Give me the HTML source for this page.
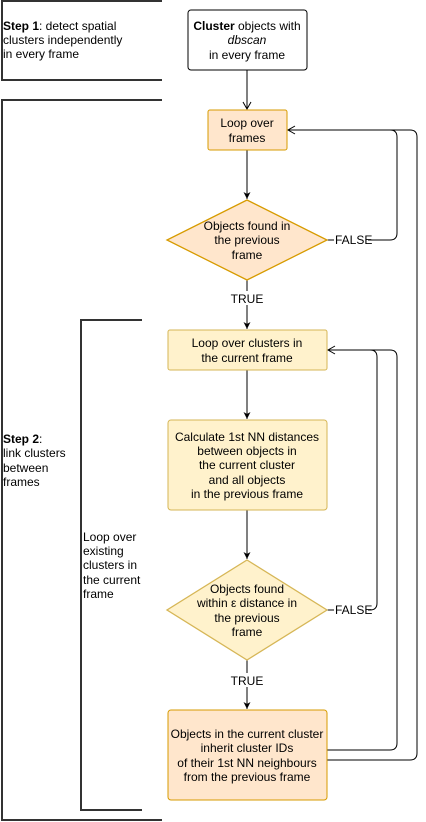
<!DOCTYPE html>
<html><head><style>
body{margin:0;background:#fff;width:426px;height:822px;overflow:hidden}
svg{display:block}
text{font-family:"Liberation Sans",sans-serif;font-size:12px;fill:#000}
</style></head><body>
<svg width="426" height="822" viewBox="0 0 426 822">
<defs>
<marker id="a" markerWidth="10" markerHeight="10" refX="8" refY="5" orient="auto" markerUnits="userSpaceOnUse"><path d="M1,1.5 L8,5 L1,8.5 L3,5 Z" fill="#000"/></marker>
<marker id="o" markerWidth="10" markerHeight="10" refX="8" refY="5" orient="auto" markerUnits="userSpaceOnUse"><path d="M1,1 L8,5 L1,9" fill="none" stroke="#000"/></marker>
</defs>
<g fill="none" stroke="#333" stroke-width="2">
<path d="M162,1 H2 V80 H162"/>
<path d="M162,100 H2 V820 H162"/>
<path d="M142,320 H81 V810 H142"/>
</g>
<text x="3" y="30"><tspan font-weight="bold">Step 1</tspan>: detect spatial</text>
<text x="3" y="44">clusters independently</text>
<text x="3" y="58">in every frame</text>
<text x="3" y="443"><tspan font-weight="bold">Step 2</tspan>:</text>
<text x="3" y="457">link clusters</text>
<text x="3" y="472">between</text>
<text x="3" y="486">frames</text>
<text x="83" y="541">Loop over</text>
<text x="83" y="555">existing</text>
<text x="83" y="569">clusters in</text>
<text x="83" y="584">the current</text>
<text x="83" y="598">frame</text>

<g stroke="#000" fill="none">
<path d="M247,70 V109" marker-end="url(#o)"/>
<path d="M247,150 V199" marker-end="url(#a)"/>
<path d="M247,280 V329" marker-end="url(#a)"/>
<path d="M247,370 V419" marker-end="url(#a)"/>
<path d="M247,510 V559" marker-end="url(#a)"/>
<path d="M247,660 V709" marker-end="url(#a)"/>
<path d="M327,240 H390 Q397,240 397,233 V137 Q397,130 390,130 H288" marker-end="url(#o)"/>
<path d="M327,610 H370 Q377,610 377,603 V357 Q377,350 370,350 H328" marker-end="url(#o)"/>
<path d="M327,750 H390 Q397,750 397,743 V357 Q397,350 390,350 H370"/>
<path d="M327,760 H410 Q417,760 417,753 V137 Q417,130 410,130 H390"/>
</g>
<rect x="334" y="232" width="34" height="14" fill="#fff"/>
<text x="335" y="244">FALSE</text>
<rect x="334" y="602" width="34" height="14" fill="#fff"/>
<text x="335" y="614">FALSE</text>
<rect x="230" y="291" width="34" height="14" fill="#fff"/>
<text x="247" y="303" text-anchor="middle">TRUE</text>
<rect x="230" y="673" width="34" height="14" fill="#fff"/>
<text x="247" y="685" text-anchor="middle">TRUE</text>

<rect x="188" y="10" width="119" height="60" rx="3" fill="#fff" stroke="#000"/>
<text x="247" y="30" text-anchor="middle"><tspan font-weight="bold">Cluster</tspan> objects with</text>
<text x="247" y="44" text-anchor="middle" font-style="italic">dbscan</text>
<text x="247" y="59" text-anchor="middle">in every frame</text>

<rect x="208" y="110" width="79" height="40" rx="2" fill="#ffe6cc" stroke="#d79b00"/>
<text x="247" y="127" text-anchor="middle">Loop over</text>
<text x="247" y="142" text-anchor="middle">frames</text>

<path d="M247,200 L327,240 L247,280 L167,240 Z" fill="#ffe6cc" stroke="#d79b00" stroke-width="1.3"/>
<text x="247" y="230" text-anchor="middle">Objects found in</text>
<text x="247" y="244" text-anchor="middle">the previous</text>
<text x="247" y="259" text-anchor="middle">frame</text>

<rect x="168" y="330" width="159" height="40" rx="2" fill="#fff2cc" stroke="#d6b656"/>
<text x="247" y="347" text-anchor="middle">Loop over clusters in</text>
<text x="247" y="362" text-anchor="middle">the current frame</text>

<rect x="168" y="420" width="159" height="90" rx="3" fill="#fff2cc" stroke="#d6b656"/>
<text x="247" y="441" text-anchor="middle">Calculate 1st NN distances</text>
<text x="247" y="455" text-anchor="middle">between objects in</text>
<text x="247" y="469" text-anchor="middle">the current cluster</text>
<text x="247" y="484" text-anchor="middle">and all objects</text>
<text x="247" y="498" text-anchor="middle">in the previous frame</text>

<path d="M247,560 L327,610 L247,660 L167,610 Z" fill="#fff2cc" stroke="#d6b656" stroke-width="1.3"/>
<text x="247" y="593" text-anchor="middle">Objects found</text>
<text x="247" y="607" text-anchor="middle">within ε distance in</text>
<text x="247" y="622" text-anchor="middle">the previous</text>
<text x="247" y="636" text-anchor="middle">frame</text>

<rect x="168" y="710" width="159" height="90" rx="3" fill="#ffe6cc" stroke="#d79b00"/>
<text x="247" y="738" text-anchor="middle">Objects in the current cluster</text>
<text x="247" y="752" text-anchor="middle">inherit cluster IDs</text>
<text x="247" y="767" text-anchor="middle">of their 1st NN neighbours</text>
<text x="247" y="781" text-anchor="middle">from the previous frame</text>
</svg>
</body></html>
